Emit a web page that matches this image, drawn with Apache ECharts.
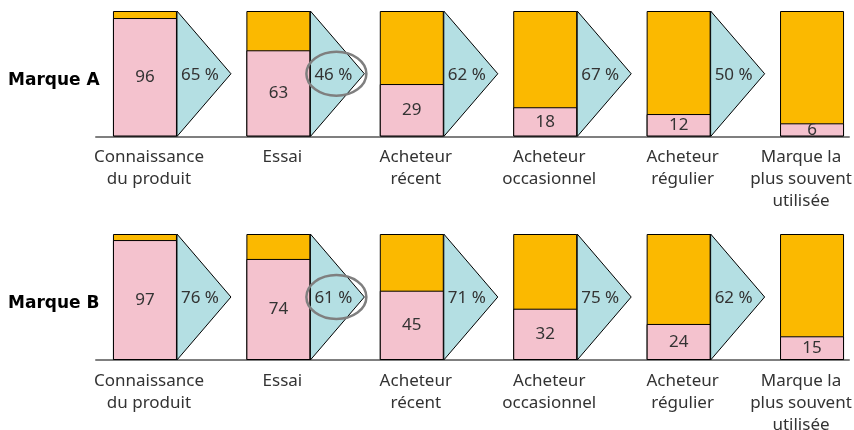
<!DOCTYPE html>
<html lang="fr">
<head>
<meta charset="UTF-8">
<title>Entonnoir de conversion</title>
<style>
  body { margin: 0; padding: 0; background: #fff; }
  #chart { width: 854px; height: 430px; }
</style>
<script src="https://cdn.jsdelivr.net/npm/echarts@6/dist/echarts.min.js"></script>
</head>
<body>
<div id="chart"></div>
<script>
var categories = ['Connaissance\ndu produit', 'Essai', 'Acheteur\nrécent', 'Acheteur\noccasionnel', 'Acheteur\nrégulier', 'Marque la\nplus souvent\nutilisée'];
var brands = ['Marque A', 'Marque B'];
// printed figures
var valuesA = [96, 63, 29, 18, 12, 6];
var valuesB = [97, 74, 45, 32, 24, 15];
// pink heights as actually drawn in the original (not to scale with the figures)
var drawnA = [94.4, 68.7, 41.8, 23.3, 17.9, 10.5];
var drawnB = [95.2, 80.2, 55, 40.7, 28.6, 18.8];
var conversionA = [65, 46, 62, 67, 50];
var conversionB = [76, 61, 71, 75, 62];
var circledStep = [1, 1];   // step index ringed in each row
var fullScale = 100;

var PINK = '#f4c2ce', ORANGE = '#fbb900', CYAN = '#b4dfe3';
var FONT = '"Noto Sans", sans-serif';

var chart = echarts.init(document.getElementById('chart'));

var rows = [valuesA, valuesB];
var drawn = [drawnA, drawnB];
var convs = [conversionA, conversionB];

var grids = [
  { left: 96, right: 5, top: 11, height: 125.5 },
  { left: 96, right: 5, top: 234, height: 126 }
];
var xAxes = [], yAxes = [], series = [], titles = [];

rows.forEach(function (vals, r) {
  xAxes.push({
    gridIndex: r, type: 'value', min: -0.367, max: 5.277,
    axisLine: { show: true, onZero: false, lineStyle: { color: '#7f7f7f', width: 2 } },
    axisTick: { show: false }, axisLabel: { show: false }, splitLine: { show: false }
  });
  yAxes.push({ gridIndex: r, type: 'value', min: 0, max: 100, show: false });

  titles.push({
    text: brands[r], left: 3, top: r === 0 ? 67 : 290,
    textStyle: { fontSize: 17, fontWeight: 'bold', color: '#000', fontFamily: '"DejaVu Sans", sans-serif' }
  });

  // full-height orange bars
  series.push({
    type: 'bar', xAxisIndex: r, yAxisIndex: r, barWidth: 64, silent: true,
    data: categories.map(function (c, i) { return [i, fullScale]; }),
    itemStyle: { color: ORANGE, borderColor: '#000', borderWidth: 1 },
    z: 2
  });
  // pink share bars
  series.push({
    type: 'bar', xAxisIndex: r, yAxisIndex: r, barWidth: 64, barGap: '-100%', silent: true,
    data: drawn[r].map(function (v, i) { return [i, v]; }),
    itemStyle: { color: PINK, borderColor: '#000', borderWidth: 1 },
    label: {
      show: true, position: 'inside', color: '#333', fontSize: 17, fontFamily: FONT,
      formatter: function (p) { return vals[p.dataIndex]; }
    },
    z: 3
  });
  // arrows with conversion rates
  series.push({
    type: 'custom', xAxisIndex: r, yAxisIndex: r, silent: true, z: 4,
    data: convs[r].map(function (v, i) { return [i, v]; }),
    renderItem: function (params, api) {
      var i = api.value(0);
      var top = api.coord([i, fullScale]);
      var bot = api.coord([i, 0]);
      var x0 = top[0] + 32;
      var midY = (top[1] + bot[1]) / 2;
      var children = [
        {
          type: 'polygon',
          shape: { points: [[x0, top[1]], [x0 + 54, midY], [x0, bot[1]]] },
          style: { fill: CYAN, stroke: '#000', lineWidth: 1 }
        },
        {
          type: 'text',
          style: {
            text: api.value(1) + ' %', x: x0 + 4, y: midY + 1,
            align: 'left', verticalAlign: 'middle',
            fill: '#333', fontSize: 17, fontFamily: FONT
          }
        }
      ];
      if (i === circledStep[r]) {
        children.push({
          type: 'ellipse',
          shape: { cx: x0 + 26, cy: midY, rx: 30, ry: 22 },
          style: { fill: 'none', stroke: '#7f7f7f', lineWidth: 2.5 }
        });
      }
      return { type: 'group', children: children };
    }
  });
  // step names under the baseline
  series.push({
    type: 'custom', xAxisIndex: r, yAxisIndex: r, silent: true, z: 5,
    data: categories.map(function (c, i) { return [i, 0]; }),
    renderItem: function (params, api) {
      var i = api.value(0);
      var p = api.coord([i, 0]);
      return {
        type: 'text',
        style: {
          text: categories[i],
          x: Math.min(p[0] + 4, api.getWidth() - 53), y: p[1] + 10,
          align: 'center', verticalAlign: 'top', lineHeight: 22,
          fill: '#333', fontSize: 17, fontFamily: FONT
        }
      };
    }
  });
});

chart.setOption({
  animation: false,
  title: titles,
  grid: grids,
  xAxis: xAxes,
  yAxis: yAxes,
  series: series
});
window.onresize = chart.resize;
</script>
</body>
</html>
